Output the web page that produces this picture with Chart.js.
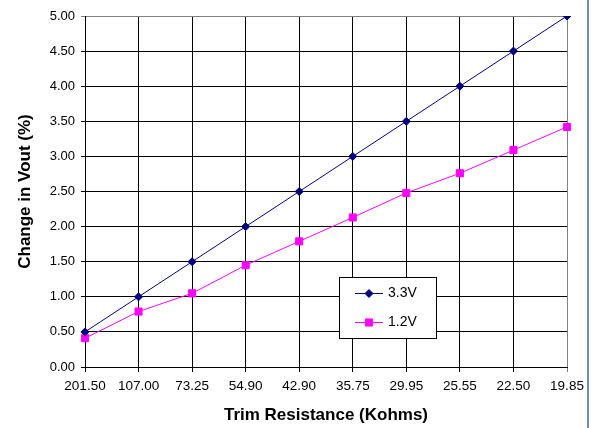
<!DOCTYPE html>
<html>
<head>
<meta charset="utf-8">
<script src="https://cdn.jsdelivr.net/npm/chart.js@4"></script>
<style>
  html, body { margin: 0; padding: 0; background: #fff; }
  #wrap { width: 598px; height: 428px; position: relative; }
</style>
</head>
<body>
<div id="wrap"><canvas id="myChart" width="598" height="428"></canvas></div>
<script>
// trim resistance categories (Kohms)
const trimLabels = ['201.50', '107.00', '73.25', '54.90', '42.90', '35.75', '29.95', '25.55', '22.50', '19.85'];
// change in Vout (%)
const v33 = [0.50, 1.00, 1.50, 2.00, 2.50, 3.00, 3.50, 4.00, 4.50, 5.00];
const v12 = [0.41, 0.79, 1.05, 1.45, 1.79, 2.13, 2.48, 2.76, 3.09, 3.42];
const seriesNames = ['3.3V', '1.2V'];

const FONT = '"Liberation Sans", Arial, sans-serif';

// legend box drawn inside the plot, like the excel one
const boxLegend = {
    id: 'boxLegend',
    afterDraw(chart) {
        const ctx = chart.ctx;
        ctx.save();
        // right border of the picture
        ctx.strokeStyle = '#7088c0';
        ctx.lineWidth = 2;
        ctx.beginPath();
        ctx.moveTo(588, 0);
        ctx.lineTo(588, 428);
        ctx.stroke();

        const x = 339.5, y = 277.5, w = 97, h = 61;
        ctx.fillStyle = '#fff';
        ctx.fillRect(x, y, w, h);
        ctx.strokeStyle = '#000';
        ctx.lineWidth = 1;
        ctx.strokeRect(x, y, w, h);

        const rows = [293, 322];
        chart.data.datasets.forEach((ds, i) => {
            const ly = rows[i] + 0.5;
            ctx.strokeStyle = ds.borderColor;
            ctx.lineWidth = 1;
            ctx.beginPath();
            ctx.moveTo(355, ly);
            ctx.lineTo(383, ly);
            ctx.stroke();
            ctx.fillStyle = ds.pointBackgroundColor;
            ctx.strokeStyle = ds.borderColor;
            Chart.helpers.drawPoint(ctx, {
                pointStyle: ds.pointStyle,
                radius: ds.pointRadius,
                borderWidth: 1
            }, 369, ly);
            ctx.fillStyle = '#000';
            ctx.font = '14px ' + FONT;
            ctx.textBaseline = 'middle';
            ctx.textAlign = 'left';
            ctx.fillText(ds.label, 388, ly);
        });
        ctx.restore();
    }
};

function createChart() {
    const ctx = document.getElementById('myChart').getContext('2d');
    Chart.defaults.font.family = FONT;
    Chart.defaults.color = '#000';

    const myChart = new Chart(ctx, {
        type: 'line',
        data: {
            labels: trimLabels,
            datasets: [{
                label: seriesNames[0],
                data: v33,
                borderColor: '#000080',
                backgroundColor: '#000080',
                pointBackgroundColor: '#000080',
                pointBorderColor: '#000080',
                pointStyle: 'rectRot',
                pointRadius: 4,
                borderWidth: 1,
                tension: 0
            }, {
                label: seriesNames[1],
                data: v12,
                borderColor: '#ff00ff',
                backgroundColor: '#ff00ff',
                pointBackgroundColor: '#ff00ff',
                pointBorderColor: '#ff00ff',
                pointStyle: 'rect',
                pointRadius: 5,
                borderWidth: 1,
                tension: 0
            }]
        },
        options: {
            responsive: false,
            animation: false,
            layout: { padding: { top: 16, right: 31, bottom: 0, left: 0 } },
            scales: {
                x: {
                    type: 'category',
                    offset: false,
                    afterFit: (scale) => { scale.height = 61; },
                    grid: {
                        color: (c) => c.index === trimLabels.length - 1 ? '#808080' : '#000',
                        tickLength: 5,
                        lineWidth: 1
                    },
                    border: { color: '#000' },
                    ticks: {
                        font: { size: 13.5 },
                        padding: 6,
                        maxRotation: 0,
                        autoSkip: false
                    },
                    title: {
                        display: true,
                        text: 'Trim Resistance (Kohms)',
                        font: { size: 17, weight: 'bold' },
                        padding: { top: 0, bottom: 2 }
                    }
                },
                y: {
                    min: 0,
                    max: 5,
                    afterFit: (scale) => { scale.width = 85; },
                    grid: {
                        color: (c) => c.index === 10 ? '#808080' : '#000',
                        tickLength: 4,
                        lineWidth: 1
                    },
                    border: { color: '#000' },
                    ticks: {
                        stepSize: 0.5,
                        font: { size: 13 },
                        padding: 6,
                        callback: (v) => Number(v).toFixed(2)
                    },
                    title: {
                        display: true,
                        text: 'Change in Vout (%)',
                        font: { size: 17, weight: 'bold' },
                        padding: { top: 15, bottom: 0 }
                    }
                }
            },
            plugins: {
                legend: { display: false },
                tooltip: { enabled: false }
            }
        },
        plugins: [boxLegend]
    });
}

createChart();
</script>
</body>
</html>
